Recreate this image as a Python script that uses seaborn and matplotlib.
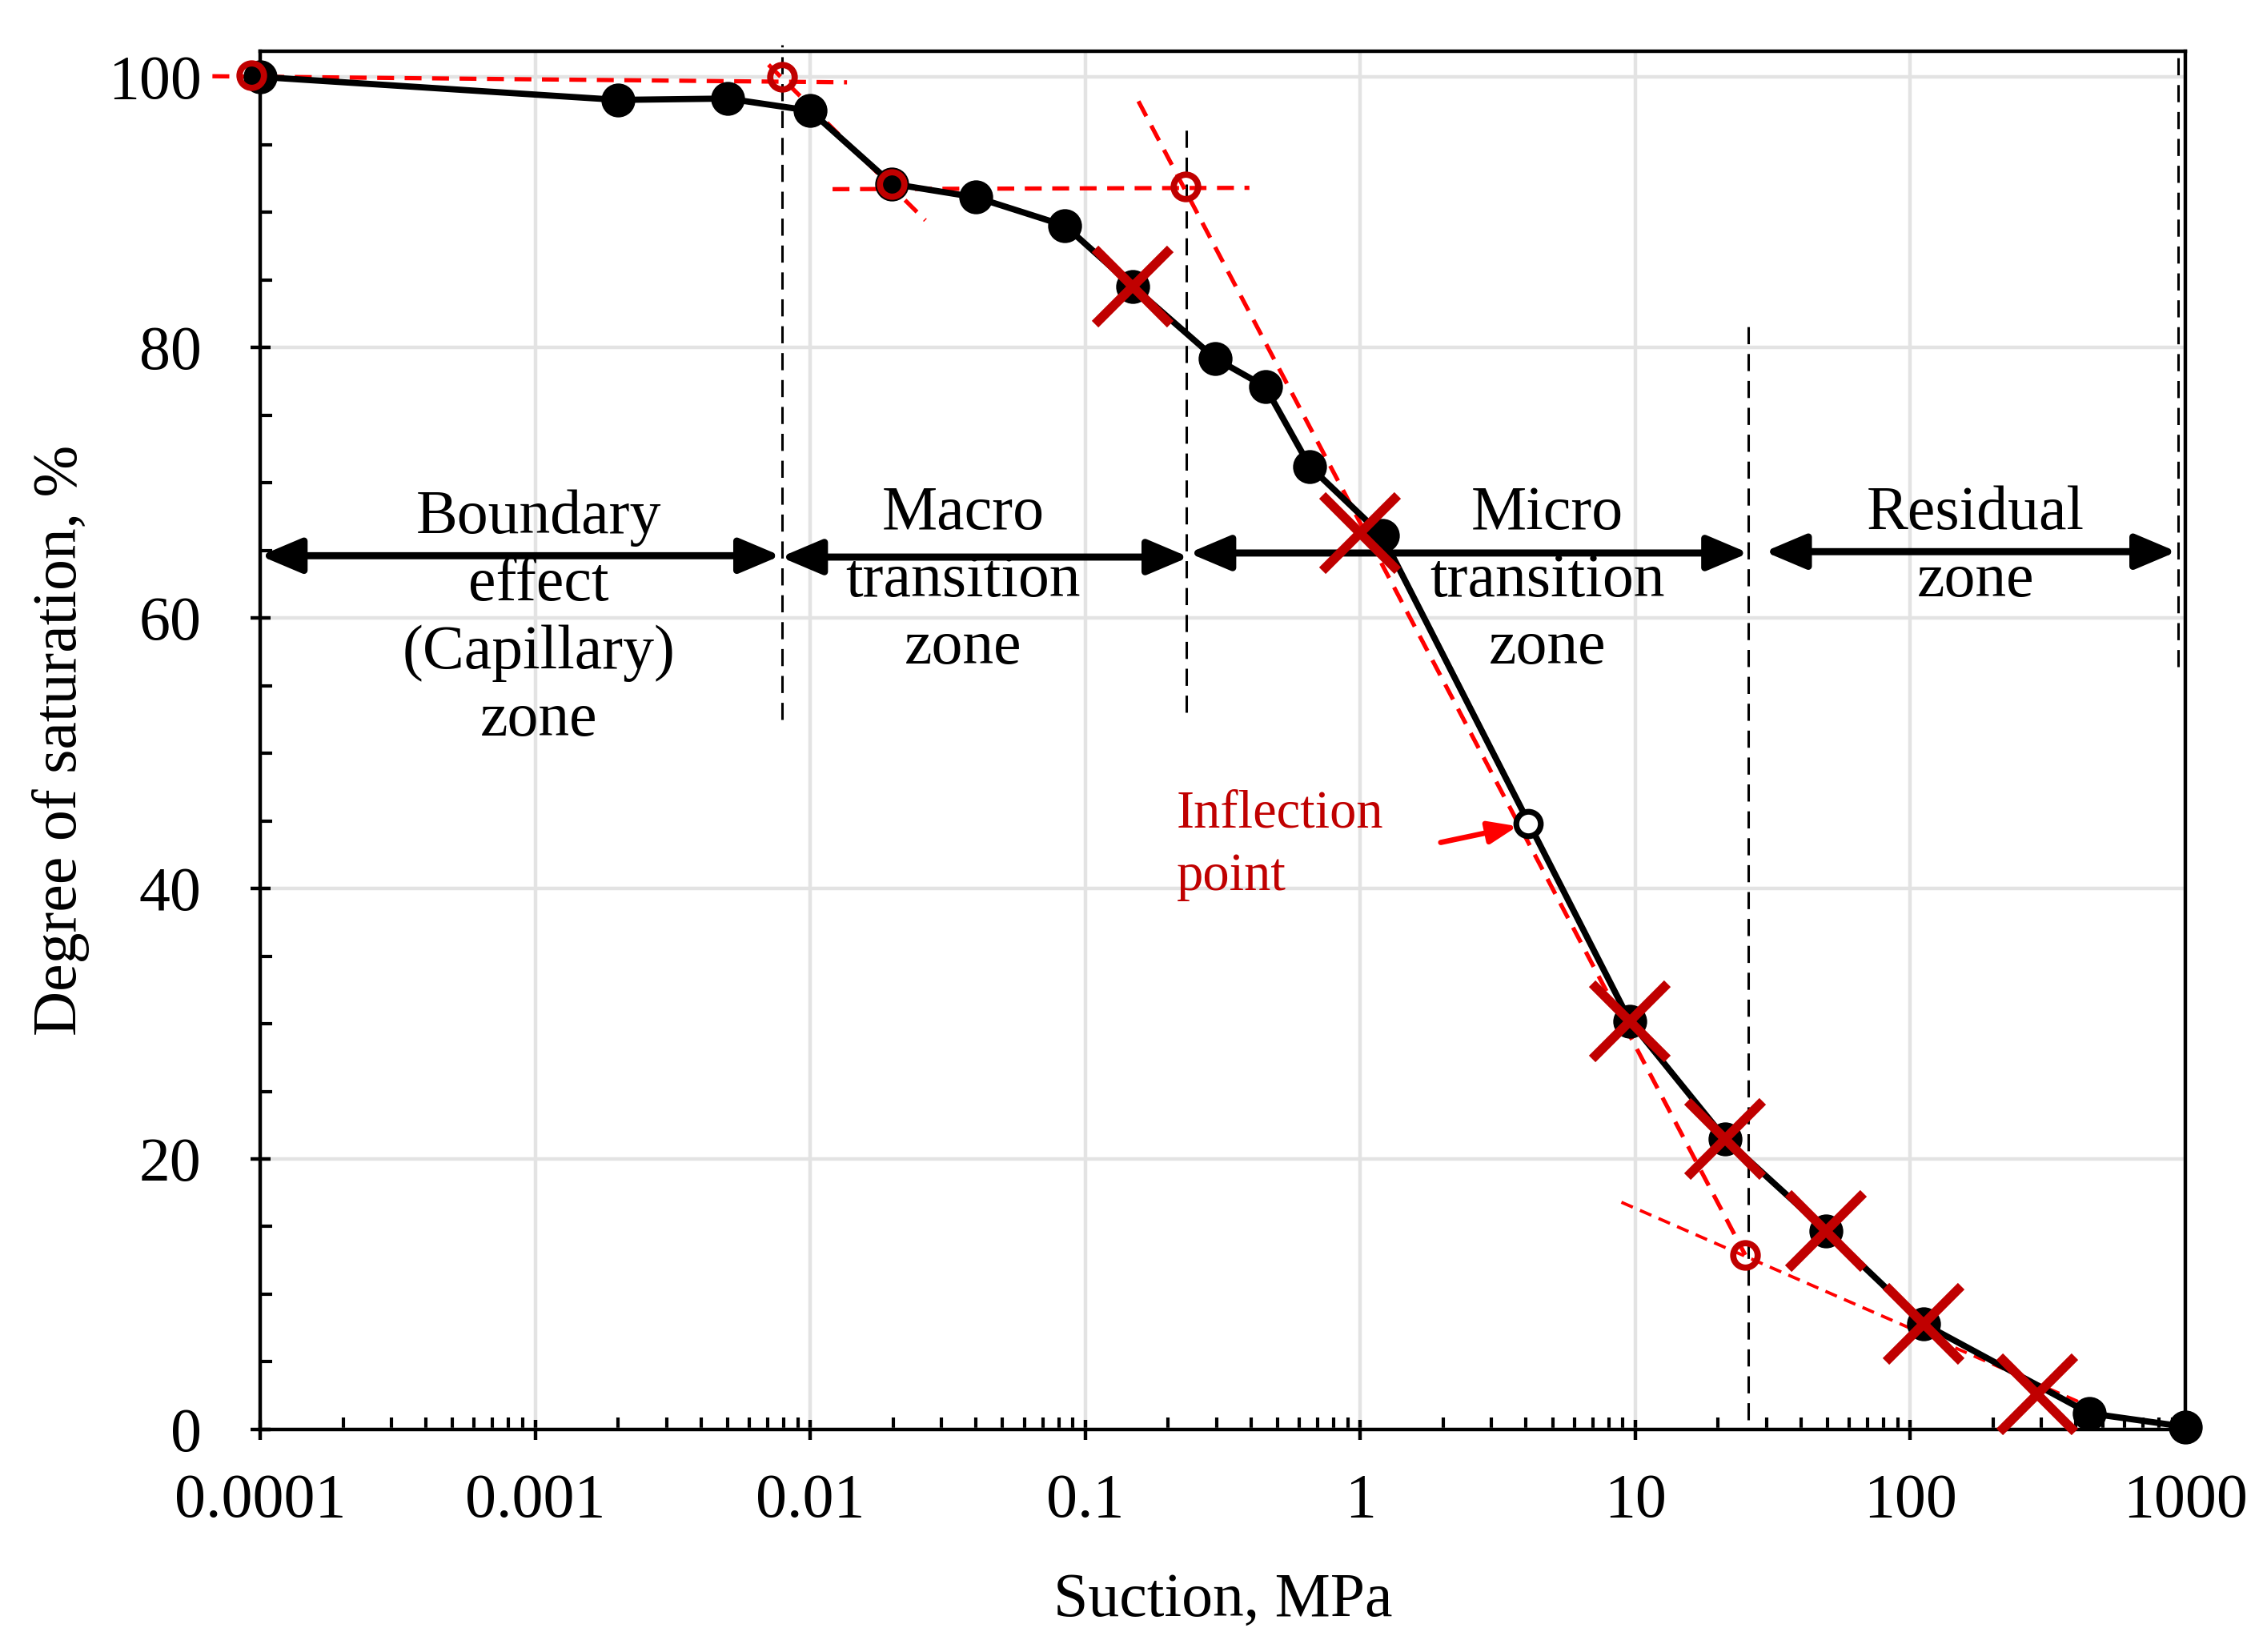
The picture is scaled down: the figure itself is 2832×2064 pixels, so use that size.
import numpy as np
import pandas as pd
import matplotlib
matplotlib.use("Agg")
import matplotlib.pyplot as plt
import matplotlib.ticker as mticker
import seaborn as sns

# measured soil-water characteristic curve
suction_mpa = [1e-4, 0.0020, 0.0050, 0.010, 0.0198, 0.040, 0.0844, 0.149, 0.296, 0.451,
               0.655, 1.2, 9.55, 21.2, 49.3, 112, 447, 1000]
saturation = [100.0, 98.3, 98.4, 97.5, 92.1, 91.1, 89.0, 84.5, 79.2, 77.1,
              71.2, 66.1, 30.2, 21.5, 14.7, 7.8, 1.2, 0.2]

# points marked with a cross
cross_suction = [0.149, 1.0, 9.55, 21.2, 49.3, 112, 289]
cross_saturation = [84.5, 66.3, 30.2, 21.5, 14.7, 7.8, 2.6]

# intersections of the tangent lines
tangent_pt_suction = [9.3e-5, 0.0079, 0.0198, 0.231, 25.1]
tangent_pt_saturation = [100.1, 100.0, 92.1, 91.9, 12.9]

# inflection point
inflection_suction = [4.07]
inflection_saturation = [44.8]

# tangent lines (start, end)
tangent_x = [(6.7e-5, 0.0136), (0.00705, 0.0262), (0.01205, 0.395), (0.156, 25.1), (8.9, 415)]
tangent_y = [(100.05, 99.6), (100.9, 89.4), (91.7, 91.8), (98.2, 12.9), (16.8, 2.0)]

# zone boundaries (x, y top, y bottom)
boundary_x = [0.0079, 0.233, 25.8, 944]
boundary_top = [102.4, 96.6, 82.0, 101.8]
boundary_bottom = [52.5, 53.0, 0.7, 56.4]

# double arrows spanning each zone
arrow_start = [1e-4, 0.0078, 0.238, 29.5]
arrow_end = [0.0078, 0.238, 25.8, 930]
arrow_y = [64.6, 64.5, 64.8, 64.9]

zone_labels = ["Boundary\neffect\n(Capillary)\nzone", "Macro\ntransition\nzone",
               "Micro\ntransition\nzone", "Residual\nzone"]
zone_label_x = [0.00103, 0.036, 4.79, 172.7]
zone_label_y = [59.9, 62.7, 62.7, 65.2]

x_ticks = [1e-4, 1e-3, 1e-2, 1e-1, 1, 10, 100, 1000]
x_tick_labels = ["0.0001", "0.001", "0.01", "0.1", "1", "10", "100", "1000"]
y_ticks = [0, 20, 40, 60, 80, 100]

DARK_RED = "#C00000"

sns.set_theme(style="ticks")
plt.rcParams["font.family"] = ["Liberation Serif", "DejaVu Serif"]
plt.rcParams["text.color"] = "black"
plt.rcParams["axes.labelcolor"] = "black"
plt.rcParams["xtick.color"] = "black"
plt.rcParams["ytick.color"] = "black"
plt.rcParams["axes.linewidth"] = 1.6

fig = plt.figure(figsize=(14.16, 10.32), dpi=200)
ax = fig.add_axes([0.1148, 0.1347, 0.8492, 0.8343])

df = pd.DataFrame({"suction": suction_mpa, "saturation": saturation})
sns.lineplot(data=df, x="suction", y="saturation", sort=False, estimator=None,
             color="black", lw=2.8, marker="o", markersize=14.5,
             markeredgecolor="black", ax=ax, zorder=4, clip_on=False)

# tangent construction lines
for (x0, x1), (y0, y1) in zip(tangent_x, tangent_y):
    lw = 1.9 if y0 > 95 or abs(y0 - y1) < 2 else 1.4
    ax.plot([x0, x1], [y0, y1], color="#FF0000", lw=lw, ls=(0, (4, 2.5)),
            zorder=3, clip_on=False)

ax.plot(tangent_pt_suction, tangent_pt_saturation, ls="none", marker="o",
        markersize=11, markerfacecolor="none", markeredgecolor=DARK_RED,
        markeredgewidth=2.8, zorder=6, clip_on=False)

ax.plot(cross_suction, cross_saturation, ls="none", marker="x", markersize=34,
        markeredgewidth=4.2, color=DARK_RED, zorder=7, clip_on=False)

ax.plot(inflection_suction, inflection_saturation, ls="none", marker="o",
        markersize=11, markerfacecolor="white", markeredgecolor="black",
        markeredgewidth=2.6, zorder=6)

# zone boundaries
for bx, yt, yb in zip(boundary_x, boundary_top, boundary_bottom):
    ax.plot([bx, bx], [yb, yt], color="black", lw=1.1, ls=(0, (7, 4)),
            zorder=2, clip_on=False)

for xs, xe, ya in zip(arrow_start, arrow_end, arrow_y):
    ax.annotate("", xy=(xe, ya), xytext=(xs, ya),
                arrowprops=dict(arrowstyle="<|-|>,head_length=1.3,head_width=0.55",
                                color="black", lw=3.2, shrinkA=0, shrinkB=0),
                zorder=5)

for label, lx, ly in zip(zone_labels, zone_label_x, zone_label_y):
    ax.text(lx, ly, label, ha="center", va="center", fontsize=28,
            linespacing=1.23, zorder=8)

ax.text(0.215, 43.2, "Inflection\npoint", color=DARK_RED, ha="left", va="center",
        fontsize=24, linespacing=1.38, zorder=8)
ax.annotate("", xy=(3.73, 44.6), xytext=(1.96, 43.4),
            arrowprops=dict(arrowstyle="-|>,head_length=0.9,head_width=0.35",
                            color="#FF0000", lw=2.4, shrinkA=0, shrinkB=0),
            zorder=8)

ax.set_xscale("log")
ax.set_xlim(1e-4, 1000)
ax.set_ylim(0, 101.9)
ax.xaxis.set_major_locator(mticker.FixedLocator(x_ticks))
ax.xaxis.set_major_formatter(mticker.FixedFormatter(x_tick_labels))
ax.xaxis.set_minor_locator(mticker.LogLocator(base=10, subs=np.arange(2, 10), numticks=20))
ax.xaxis.set_minor_formatter(mticker.NullFormatter())
ax.yaxis.set_major_locator(mticker.FixedLocator(y_ticks))
ax.yaxis.set_minor_locator(mticker.MultipleLocator(5))

ax.grid(True, which="major", color="#e3e3e3", lw=1.6, zorder=0)
ax.set_axisbelow(True)
for side in ["top", "right", "left", "bottom"]:
    ax.spines[side].set_visible(True)
    ax.spines[side].set_color("black")
    ax.spines[side].set_linewidth(1.6)

ax.tick_params(which="major", direction="inout", length=9, width=1.6,
               labelsize=28, colors="black")
ax.tick_params(which="minor", direction="in", length=5.5, width=1.5)
ax.tick_params(axis="x", which="major", pad=15)
ax.tick_params(axis="y", which="major", pad=22)
ax.tick_params(axis="y", which="minor", left=True)

ax.set_xlabel("Suction, MPa", fontsize=28, labelpad=19)
ax.set_ylabel("Degree of saturation, %", fontsize=28, labelpad=8)

fig.savefig("out.png", dpi=200)
